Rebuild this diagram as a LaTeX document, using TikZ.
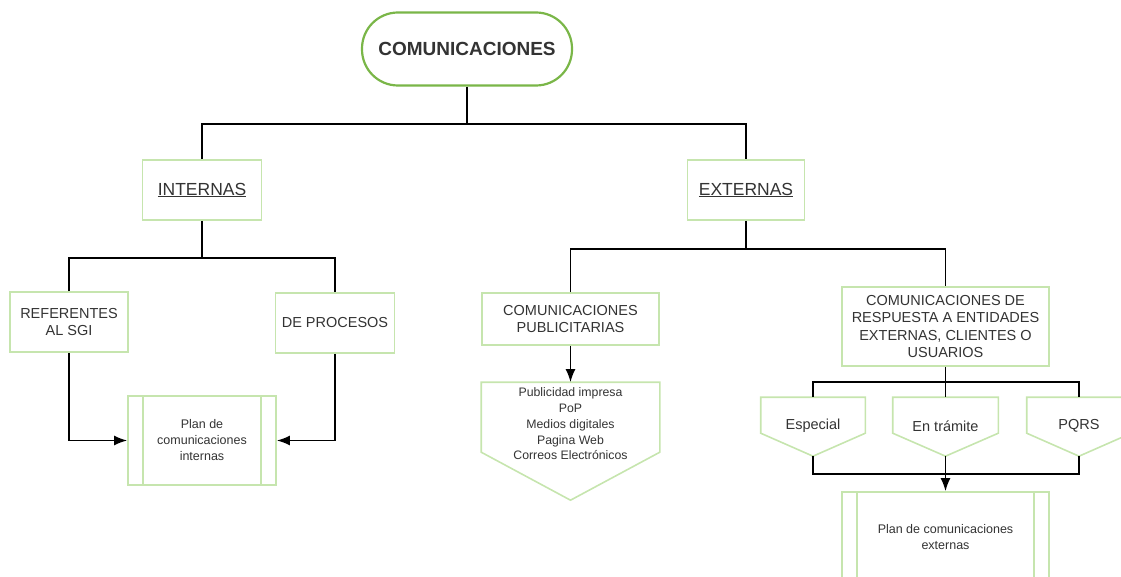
\documentclass[tikz,border=0pt]{standalone}
\usepackage{fontspec}
\setmainfont{Liberation Sans}
\usetikzlibrary{positioning,arrows.meta}
\definecolor{termgreen}{HTML}{7AB648}
\definecolor{boxgreen}{HTML}{C6E5AE}
\definecolor{txtgray}{HTML}{333333}
\begin{document}
\begin{tikzpicture}[
                        x=1pt,y=-1pt,
                        >={Latex[length=13pt,width=10pt]},
                        box/.style={rectangle, draw=boxgreen, line width=1.6pt, align=center, text=txtgray, inner sep=2pt, font=\fontsize{14.5}{17.5}\selectfont},
                        term/.style={rectangle, rounded corners=36pt, draw=termgreen, line width=2.2pt, text=txtgray, font=\fontsize{19}{22}\selectfont\bfseries},
                        plan/.style={box, font=\fontsize{12.5}{16}\selectfont, path picture={
                            \draw[boxgreen, line width=1.6pt] ([xshift=15pt]path picture bounding box.north west) -- ([xshift=15pt]path picture bounding box.south west);
                            \draw[boxgreen, line width=1.6pt] ([xshift=-15pt]path picture bounding box.north east) -- ([xshift=-15pt]path picture bounding box.south east);}},
                        tag/.style 2 args={box, draw=none, append after command={\pgfextra{
                            \draw[boxgreen, line width=1.6pt, line join=miter] ([yshift=-#1pt]\tikzlastnode.north west) -- (\tikzlastnode.north west) -- (\tikzlastnode.north east) -- ([yshift=-#1pt]\tikzlastnode.north east) -- ([yshift=-#2pt]\tikzlastnode.north) coordinate (\tikzlastnode-tip) -- cycle;}}},
                        line/.style={draw, line width=1.8pt}
                    ]
                    \useasboundingbox (0,0) rectangle (1121,577);
                    % Blocks
                    \node [term, minimum width=210, minimum height=73] (com) at (467,49) {COMUNICACIONES};
                    \node [box, minimum width=119, minimum height=60, font=\fontsize{17.5}{20}\selectfont] (int) at (202,190) {\underline{INTERNAS}};
                    \node [box, minimum width=117, minimum height=60, font=\fontsize{17.5}{20}\selectfont] (ext) at (746,190) {\underline{EXTERNAS}};
                    \node [box, minimum width=118, minimum height=60] (ref) at (69,322) {REFERENTES\\AL SGI};
                    \node [box, minimum width=119, minimum height=60] (proc) at (335,323) {DE PROCESOS};
                    \node [plan, minimum width=148, minimum height=89] (planint) at (202,440.5) {Plan de\\comunicaciones\\internas};
                    \node [box, minimum width=177, minimum height=52] (pub) at (570.5,319) {COMUNICACIONES\\PUBLICITARIAS};
                    \node [tag={70}{118}, minimum width=177, minimum height=82, font=\fontsize{12.3}{15.8}\selectfont] (list) at (570.5,424) {Publicidad impresa\\PoP\\Medios digitales\\Pagina Web\\Correos Electrónicos};
                    \node [box, minimum width=207, minimum height=79] (resp) at (945.5,326.5) {COMUNICACIONES DE\\RESPUESTA A ENTIDADES\\EXTERNAS, CLIENTES O\\USUARIOS};
                    \node [tag={36}{59}, minimum width=103, minimum height=56] (esp) at (813,426) {Especial};
                    \node [tag={36}{59}, minimum width=104, minimum height=56] (tram) at (945.5,426) {En trámite};
                    \node [tag={36}{59}, minimum width=103, minimum height=56] (pqrs) at (1079,426) {PQRS};
                    \node [plan, minimum width=207, minimum height=90] (planext) at (945.5,537) {Plan de comunicaciones\\externas};
                    \coordinate (topbus) at (467,124);
                    \coordinate (intbus) at (202,258);
                    \coordinate (extbus) at (746,249);
                    \coordinate (respbus) at (945.5,382);
                    \coordinate (tagbus) at (945.5,474);

                    % Connections
                    \draw [line] (com.south) -- (topbus);
                    \draw [line] (int.north) |- (topbus) -| (ext.north);
                    \draw [line] (int.south) -- (intbus);
                    \draw [line] (ref.north) |- (intbus) -| (proc.north);
                    \draw [line,->] (ref.south) |- (planint.west);
                    \draw [line,->] (proc.south) |- (planint.east);
                    \draw [line] (ext.south) -- (extbus);
                    \draw [line] (pub.north) |- (extbus) -| (resp.north);
                    \draw [line,->] (pub.south) -- (list.north);
                    \draw [line] (resp.south) -- (tram.north);
                    \draw [line] (esp.north) |- (respbus) -| (pqrs.north);
                    \draw [line] (esp-tip) |- (tagbus) -| (pqrs-tip);
                    \draw [line,->] (tram-tip) -- (planext.north);
                \end{tikzpicture}
\end{document}
